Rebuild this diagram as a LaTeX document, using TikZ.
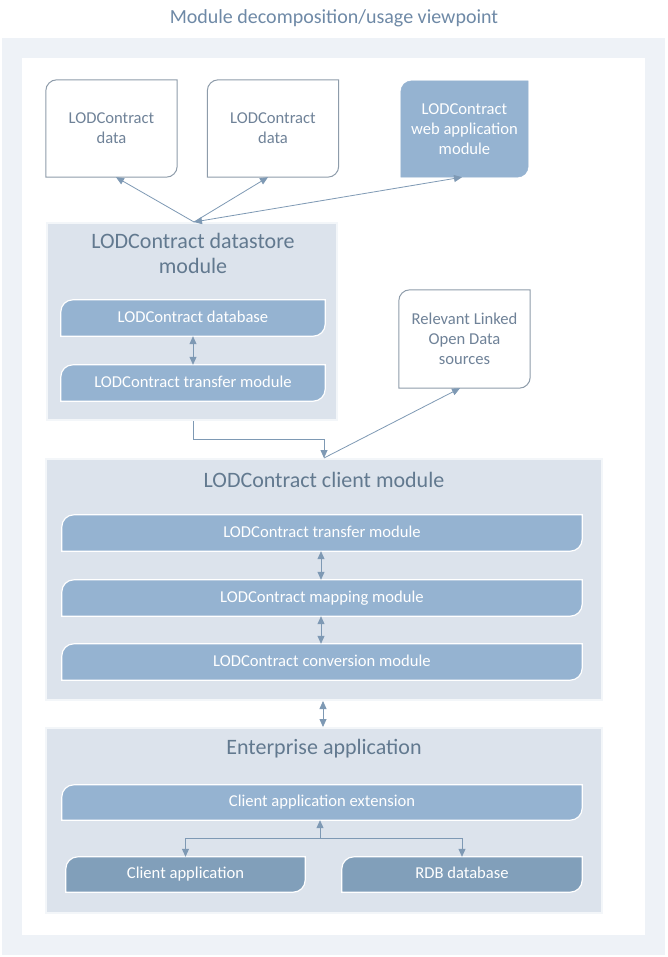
\documentclass[tikz,border=0pt]{standalone}
\usepackage{fontspec}
\setmainfont{Carlito}
\usetikzlibrary{arrows.meta,calc}

\definecolor{bandgray}{HTML}{EEF2F7}
\definecolor{contfill}{HTML}{DCE3EC}
\definecolor{contedge}{HTML}{F3F6F9}
\definecolor{barlight}{HTML}{95B3D1}
\definecolor{bardark}{HTML}{819FBA}
\definecolor{boxline}{HTML}{8E9CAA}
\definecolor{boxtext}{HTML}{6F8298}
\definecolor{conttext}{HTML}{62798F}
\definecolor{titletext}{HTML}{6E89A6}
\definecolor{arrowcol}{HTML}{7E99B4}

\pgfdeclarelayer{back}
\pgfdeclarelayer{mid}
\pgfsetlayers{back,mid,main}

\tikzset{
  every node/.style={inner sep=0pt},
  databox/.style={minimum width=131pt,minimum height=97pt,align=center,
    text=boxtext,font=\fontsize{16.6}{20}\selectfont},
  webbox/.style={databox,minimum width=127pt,minimum height=96pt,text=white},
  odsbox/.style={databox,minimum height=98pt},
  modbar/.style={minimum height=36pt,text height=11.5pt,text depth=3.5pt,
    text=white,font=\fontsize{16.6}{20}\selectfont},
  cont/.style={fill=contfill,draw=contedge,line width=2pt},
  conttitle/.style={text=conttext,align=center,font=\fontsize{22}{25}\selectfont},
  link/.style={draw=arrowcol,line width=0.8pt},
  boxshape/.style={fill=white,draw=boxline,line width=1pt},
  barshape/.style={fill=barlight,draw=white,line width=1.2pt},
  darkshape/.style={fill=bardark,draw=white,line width=1.2pt},
  webshape/.style={fill=barlight,draw=barlight,line width=0.5pt}
}

\begin{document}
\begin{tikzpicture}[x=1pt,y=-1pt,>={Triangle[length=8pt,width=7pt]}]
  \useasboundingbox (0,0) rectangle (667,957);

  % frame
  \begin{pgfonlayer}{back}
    \fill[bandgray] (2,38) rectangle (665,955);
    \fill[white] (22,58) rectangle (645,935);
    \node[cont,minimum width=290pt,minimum height=197pt] (ds) at (192,321.5) {};
    \node[cont,minimum width=556pt,minimum height=241pt] (cl) at (324,579.5) {};
    \node[cont,minimum width=556pt,minimum height=185pt] (ent) at (324,820.5) {};
  \end{pgfonlayer}

  \node[text=titletext,font=\fontsize{20}{24}\selectfont] (title) at (334,18) {Module decomposition/usage viewpoint};

  % top row
  \node[databox] (d1) at (111.5,128.5) {LODContract\\data};
  \node[databox] (d2) at (273,128.5) {LODContract\\data};
  \node[webbox] (web) at (464.5,129) {LODContract\\web application\\module};
  \node[odsbox] (ods) at (464.5,339) {Relevant Linked\\Open Data\\sources};

  % datastore module
  \node[conttitle] (dstitle) at (193,253.5) {LODContract datastore\\module};
  \node[modbar,minimum width=264pt] (dsdb) at (193,318) {LODContract database};
  \node[modbar,minimum width=264pt] (dstr) at (193,383) {LODContract transfer module};

  % client module
  \node[conttitle] (cltitle) at (324,480) {LODContract client module};
  \node[modbar,minimum width=520pt] (cltr) at (322,533) {LODContract transfer module};
  \node[modbar,minimum width=520pt] (clmap) at (322,598) {LODContract mapping module};
  \node[modbar,minimum width=520pt] (clconv) at (322,662) {LODContract conversion module};

  % enterprise application
  \node[conttitle] (enttitle) at (324,749) {Enterprise application};
  \node[modbar,minimum width=520pt,minimum height=35pt] (ext) at (322,802.5) {Client application extension};
  \node[modbar,minimum width=239pt,minimum height=35pt] (capp) at (185.5,874.5) {Client application};
  \node[modbar,minimum width=240pt,minimum height=35pt] (rdb) at (462,874.5) {RDB database};

  % shapes behind the texts
  \begin{pgfonlayer}{mid}
    \foreach \n/\r/\s in {d1/11/boxshape,d2/11/boxshape,ods/11/boxshape,web/11/webshape,
        dsdb/12/barshape,dstr/12/barshape,cltr/12/barshape,clmap/12/barshape,
        clconv/12/barshape,ext/12/barshape,capp/12/darkshape,rdb/12/darkshape}
      \draw[\s] (\n.south west) -- ([yshift=-\r pt]\n.north west)
        arc[start angle=180,end angle=90,radius=\r pt] -- (\n.north east)
        -- ([yshift=\r pt]\n.south east)
        arc[start angle=0,end angle=-90,radius=\r pt] -- cycle;
  \end{pgfonlayer}

  % connectors
  \draw[link,->] ([xshift=2pt]ds.north) -- ([xshift=4.5pt]d1.south);
  \draw[link,->] ([xshift=2pt]ds.north) -- ([xshift=-5pt]d2.south);
  \draw[link,<->] ([xshift=2pt]ds.north) -- ([xshift=-2.5pt]web.south);
  \draw[link,<->] (dsdb) -- (dstr);
  \draw[link,->] ([xshift=1pt]ds.south) -- ++(0,18) -| (cl.north);
  \draw[link,->] (cl.north) -- ([xshift=-4.5pt]ods.south);
  \draw[link,<->] ([xshift=-1pt]cltr.south) -- ([xshift=-1pt]clmap.north);
  \draw[link,<->] ([xshift=-1pt]clmap.south) -- ([xshift=-1pt]clconv.north);
  \draw[link,<->] ([xshift=-1pt]cl.south) -- ([xshift=-1pt]ent.north);
  \coordinate (split) at ($(ext.south)+(-2,18)$);
  \draw[link,->] (split) -- ([xshift=-2pt]ext.south);
  \draw[link,->] (split) -| (capp.north);
  \draw[link,->] (split) -| (rdb.north);
\end{tikzpicture}
\end{document}
